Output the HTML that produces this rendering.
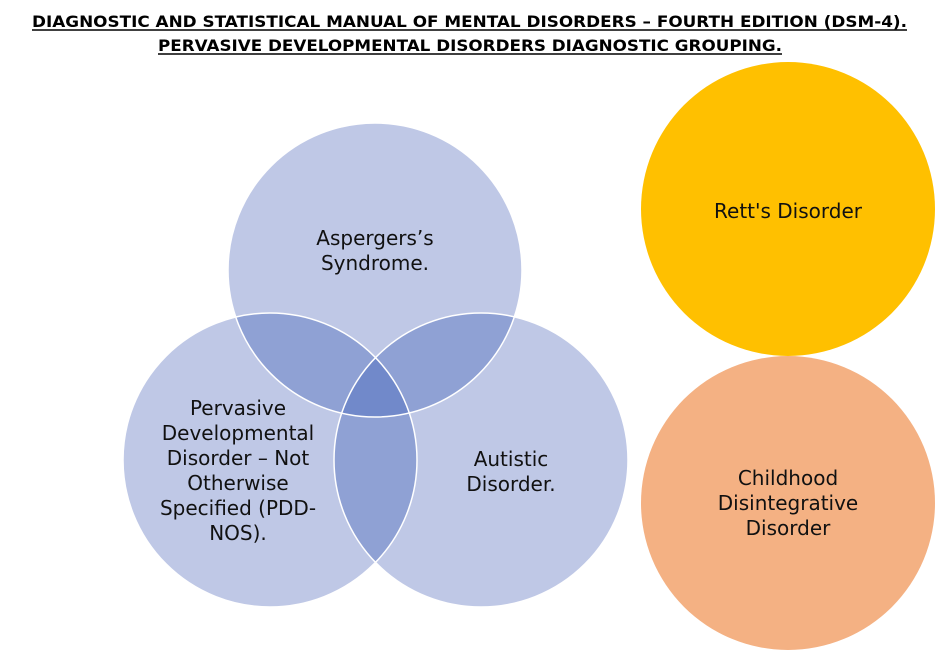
<!DOCTYPE html>
<html><head><meta charset="utf-8"><style>
html,body{margin:0;padding:0;background:#fff;width:940px;height:651px;overflow:hidden}
svg{display:block}
</style></head><body>
<svg width="940" height="651" viewBox="0 0 940 651" xmlns="http://www.w3.org/2000/svg" font-family="DejaVu Sans, Liberation Sans, sans-serif">
<defs>
<clipPath id="cT"><circle cx="375" cy="270" r="147"/></clipPath>
<clipPath id="cL"><circle cx="270" cy="460" r="147"/></clipPath>
<clipPath id="cR"><circle cx="481" cy="460" r="147"/></clipPath>
</defs>
<text x="32" y="27" font-size="16" font-weight="bold" textLength="875" lengthAdjust="spacingAndGlyphs">DIAGNOSTIC AND STATISTICAL MANUAL OF MENTAL DISORDERS – FOURTH EDITION (DSM-4).</text>
<text x="158" y="51" font-size="16" font-weight="bold" textLength="624" lengthAdjust="spacingAndGlyphs">PERVASIVE DEVELOPMENTAL DISORDERS DIAGNOSTIC GROUPING.</text>
<line x1="32" y1="30" x2="907" y2="30" stroke="#000" stroke-width="1.5"/>
<line x1="158" y1="54" x2="782" y2="54" stroke="#000" stroke-width="1.5"/>

<circle cx="375" cy="270" r="147" fill="#BFC8E6"/>
<circle cx="270" cy="460" r="147" fill="#BFC8E6"/>
<circle cx="481" cy="460" r="147" fill="#BFC8E6"/>
<g clip-path="url(#cT)">
<circle cx="270" cy="460" r="147" fill="#8FA1D4"/>
<circle cx="481" cy="460" r="147" fill="#8FA1D4"/>
</g>
<g clip-path="url(#cL)"><circle cx="481" cy="460" r="147" fill="#8FA1D4"/></g>
<g clip-path="url(#cL)"><g clip-path="url(#cR)"><circle cx="375" cy="270" r="147" fill="#7189CA"/></g></g>
<circle cx="375" cy="270" r="147" fill="none" stroke="#fff" stroke-width="1.5"/>
<circle cx="270" cy="460" r="147" fill="none" stroke="#fff" stroke-width="1.5"/>
<circle cx="481" cy="460" r="147" fill="none" stroke="#fff" stroke-width="1.5"/>

<circle cx="788" cy="209" r="147" fill="#FFC000"/>
<circle cx="788" cy="503" r="147" fill="#F4B183"/>

<g font-size="20" text-anchor="middle" fill="#111">
<text x="375" y="245">Aspergers’s</text>
<text x="375" y="270">Syndrome.</text>
<text x="238" y="415">Pervasive</text>
<text x="238" y="440">Developmental</text>
<text x="238" y="465">Disorder – Not</text>
<text x="238" y="490">Otherwise</text>
<text x="238" y="515">Specified (PDD-</text>
<text x="238" y="540">NOS).</text>
<text x="511" y="466">Autistic</text>
<text x="511" y="491">Disorder.</text>
<text x="788" y="218">Rett's Disorder</text>
<text x="788" y="485">Childhood</text>
<text x="788" y="510">Disintegrative</text>
<text x="788" y="535">Disorder</text>
</g>
</svg>
</body></html>
